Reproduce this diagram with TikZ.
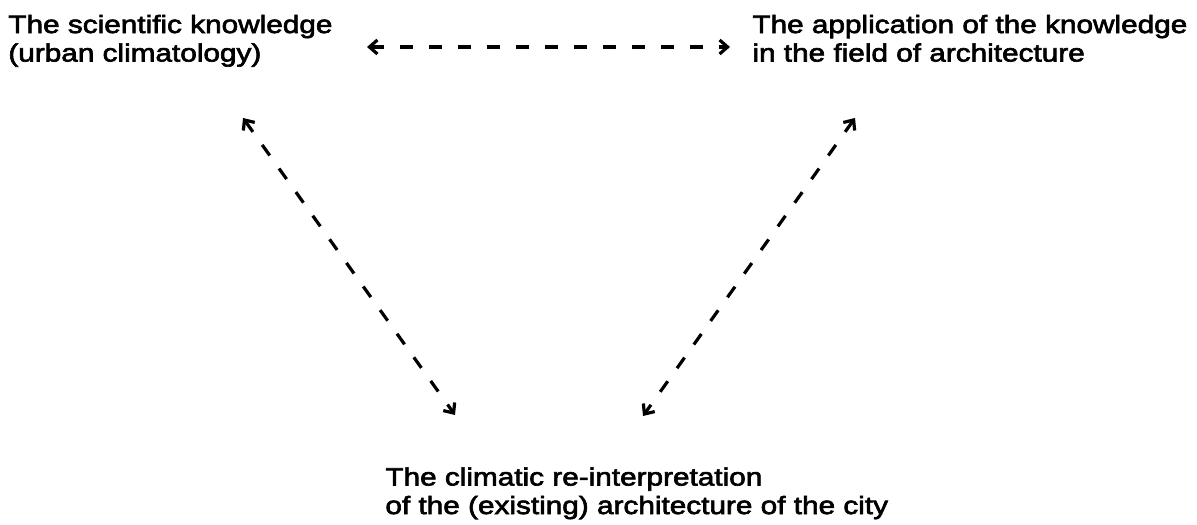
\documentclass[tikz,border=0pt]{standalone}
\usepackage{fontspec}
\setmainfont{Liberation Sans}[FakeStretch=1.19,FakeBold=2.6]
\usetikzlibrary{arrows.meta}
\begin{document}
\begin{tikzpicture}[x=0.5pt,y=-0.5pt,
  lbl/.style={anchor=north west,inner sep=0pt,align=left,font=\fontsize{12.5pt}{14.25pt}\selectfont},
  conn/.style={line width=1.6pt,dash pattern=on 6.5pt off 8pt,
    {Straight Barb[length=4pt,width=7pt]}-{Straight Barb[length=4pt,width=7pt]}}]
\useasboundingbox (0,0) rectangle (1197,524);
\node[lbl] (sci) at (8,14.5) {The scientific knowledge\\(urban climatology)};
\node[lbl] (app) at (752,14.5) {The application of the knowledge\\in the field of architecture};
\node[lbl] (cli) at (385,467) {The climatic re-interpretation\\of the (existing) architecture of the city};
\coordinate (h1) at (367,47);
\coordinate (h2) at (730,47);
\coordinate (l1) at (243,118);
\coordinate (l2) at (455,415);
\coordinate (r1) at (855,118);
\coordinate (r2) at (643,416);
\draw[conn] (h1) -- (h2);
\draw[conn] (l1) -- (l2);
\draw[conn] (r1) -- (r2);
\end{tikzpicture}
\end{document}
